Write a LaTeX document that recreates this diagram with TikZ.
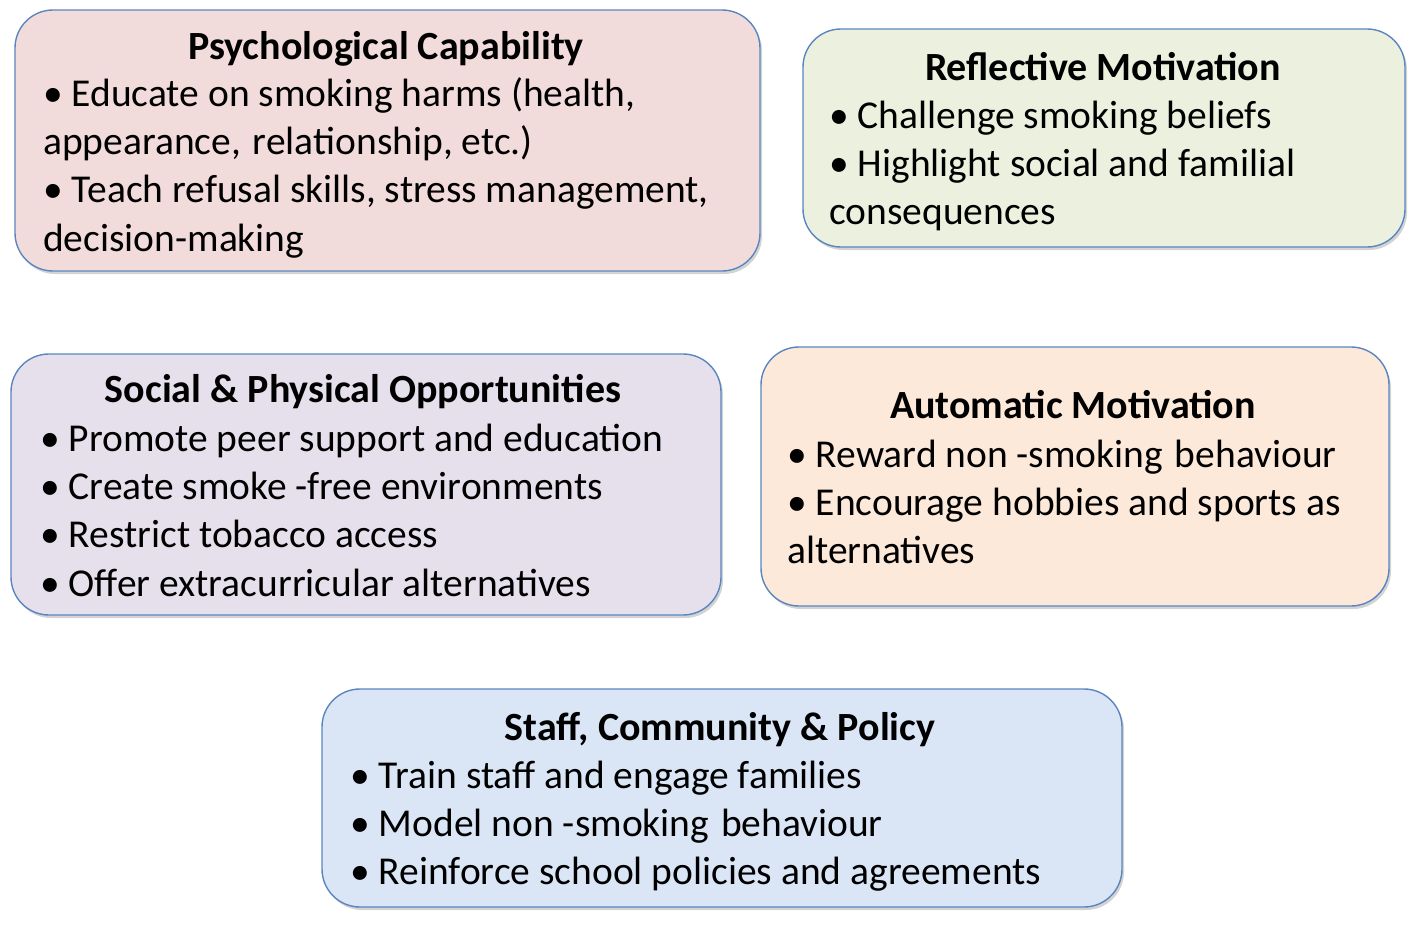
\documentclass[tikz,border=0pt]{standalone}
\usepackage{fontspec}
\setmainfont{Carlito}
\usetikzlibrary{shadows}
\definecolor{bord}{HTML}{5A86C0}
\definecolor{fpsy}{HTML}{F2DCDB}
\definecolor{fref}{HTML}{EBF1DE}
\definecolor{fsoc}{HTML}{E5E0EC}
\definecolor{faut}{HTML}{FDE9D9}
\definecolor{fsta}{HTML}{DAE6F6}
\tikzset{
  card/.style={draw=bord, line width=1.4pt, rounded corners=38pt, inner sep=0pt,
    drop shadow={opacity=0.35, shadow xshift=2pt, shadow yshift=-3pt}},
  ttl/.style={anchor=base, inner sep=0pt, font=\fontsize{40}{48}\selectfont\bfseries},
  body/.style={anchor=base west, inner sep=0pt},
}
\newcommand{\blines}[2]{\parbox[t]{#1}{\raggedright\fontsize{39.5}{48.4}\selectfont #2}}
\newcommand{\gap}{\hspace{0.3em}}
\begin{document}
\begin{tikzpicture}[x=1pt,y=-1pt]
\useasboundingbox (0,0) rectangle (1418,926);
% boxes
\draw[card, fill=fpsy] (15,10) rectangle (760,271);
\draw[card, fill=fref] (803,29) rectangle (1405,247);
\draw[card, fill=fsoc] (11,354) rectangle (721,615);
\draw[card, fill=faut] (761,347) rectangle (1389,606);
\draw[card, fill=fsta] (322,689) rectangle (1122,907);
% Psychological Capability
\node[ttl] (t1) at (386,59) {Psychological Capability};
\node[body] (b1) at (43,106) {\blines{740pt}{• Educate on smoking harms (health,\\appearance,\gap relationship, etc.)\\• Teach refusal skills, stress management,\\decision-making}};
% Reflective Motivation
\node[ttl] (t2) at (1103,80) {Reflective Motivation};
\node[body] (b2) at (829,128) {\blines{590pt}{• Challenge smoking beliefs\\• Highlight social and familial\\consequences}};
% Social & Physical
\node[ttl] (t3) at (363,402) {Social \& Physical Opportunities};
\node[body] (b3) at (40,451) {\blines{700pt}{• Promote peer support and education\\• Create smoke -free environments\\• Restrict tobacco access\\• Offer extracurricular alternatives}};
% Automatic Motivation
\node[ttl] (t4) at (1073,418) {Automatic Motivation};
\node[body] (b4) at (787,467) {\blines{620pt}{• Reward non -smoking\gap behaviour\\• Encourage hobbies and sports as\\alternatives}};
% Staff
\node[ttl] (t5) at (720,740) {Staff, Community \& Policy};
\node[body] (b5) at (350,788) {\blines{780pt}{• Train staff and engage families\\• Model non -smoking\gap behaviour\\• Reinforce school policies and agreements}};
\end{tikzpicture}
\end{document}
